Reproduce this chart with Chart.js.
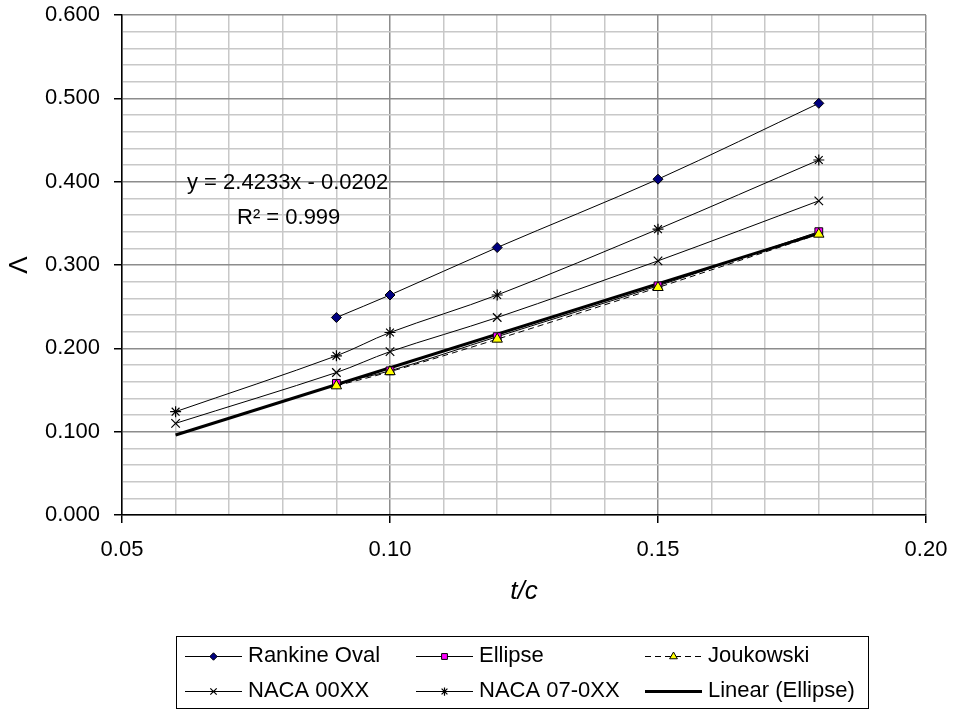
<!DOCTYPE html>
<html>
<head>
<meta charset="utf-8">
<script src="https://cdn.jsdelivr.net/npm/chart.js@4.4.1/dist/chart.umd.min.js"></script>
<style>
  html, body { margin: 0; padding: 0; background: #fff; }
  #wrap { width: 953px; height: 711px; }
</style>
</head>
<body>
<div id="wrap"><canvas id="lambda"></canvas></div>
<script>
// thickness ratio t/c of each section family
const tcSections = [0.09, 0.10, 0.12, 0.15, 0.18];
const tcNaca = [0.06, 0.09, 0.10, 0.12, 0.15, 0.18];
const tcTrend = [0.06, 0.18];

// Lambda values
const rankineOval = [0.237, 0.264, 0.321, 0.403, 0.494];
const ellipse = [0.158, 0.173, 0.214, 0.275, 0.340];
const joukowski = [0.155, 0.172, 0.211, 0.273, 0.337];
const naca00 = [0.110, 0.171, 0.196, 0.237, 0.305, 0.377];
const naca07 = [0.124, 0.191, 0.219, 0.264, 0.343, 0.426];
const linearEllipse = [0.096, 0.338];

const trendLabel = "y = 2.4233x - 0.0202";
const r2Label = "R\u00B2 = 0.999";

const FONT = "'Liberation Sans', Arial, sans-serif";

function pts(xs, ys) {
  return xs.map((x, i) => ({ x: x, y: ys[i] }));
}

function isMajor(v, step) {
  const q = v / step;
  return Math.abs(q - Math.round(q)) < 1e-6;
}

const datasets = [
  {
    label: "Rankine Oval",
    data: pts(tcSections, rankineOval),
    borderColor: "#000",
    borderWidth: 1,
    pointStyle: "rectRot",
    pointRadius: 5,
    pointBackgroundColor: "#000080",
    pointBorderColor: "#000",
    pointBorderWidth: 1,
  },
  {
    label: "Ellipse",
    data: pts(tcSections, ellipse),
    borderColor: "#000",
    borderWidth: 1,
    pointStyle: "rect",
    pointRadius: 5.5,
    pointBackgroundColor: "#ff00ff",
    pointBorderColor: "#000",
    pointBorderWidth: 1,
  },
  {
    label: "Joukowski",
    data: pts(tcSections, joukowski),
    borderColor: "#000",
    borderWidth: 1,
    borderDash: [6, 4],
    pointStyle: "triangle",
    pointRadius: 6,
    pointBackgroundColor: "#ffff00",
    pointBorderColor: "#000",
    pointBorderWidth: 1,
    order: -1,
  },
  {
    label: "NACA 00XX",
    data: pts(tcNaca, naca00),
    borderColor: "#000",
    borderWidth: 1,
    pointStyle: "crossRot",
    pointRadius: 6,
    pointBorderColor: "#000",
    pointBorderWidth: 1.2,
  },
  {
    label: "NACA 07-0XX",
    data: pts(tcNaca, naca07),
    borderColor: "#000",
    borderWidth: 1,
    pointStyle: "star",
    pointRadius: 5.5,
    pointBorderColor: "#000",
    pointBorderWidth: 1.2,
  },
  {
    label: "Linear (Ellipse)",
    data: pts(tcTrend, linearEllipse),
    borderColor: "#000",
    borderWidth: 3,
    pointRadius: 0,
    tension: 0,
    order: 1,
  },
];

// boxed legend under the plot, three columns by two rows
const boxLegend = {
  id: "boxLegend",
  afterDraw(chart) {
    const ctx = chart.ctx;
    const box = { x: 176.5, y: 636.5, w: 692, h: 72 };
    const cols = [185, 416, 645];
    const rows = [656, 691];
    const lineLen = 57;
    ctx.save();
    ctx.strokeStyle = "#000";
    ctx.lineWidth = 1;
    ctx.strokeRect(box.x, box.y, box.w, box.h);
    ctx.font = "22px " + FONT;
    ctx.textBaseline = "middle";
    ctx.textAlign = "left";
    chart.data.datasets.forEach((ds, i) => {
      const x = cols[i % 3];
      const y = rows[Math.floor(i / 3)];
      const ly = ds.borderWidth % 2 ? y + 0.5 : y;
      ctx.strokeStyle = ds.borderColor;
      ctx.lineWidth = ds.borderWidth;
      ctx.setLineDash(ds.borderDash || []);
      ctx.beginPath();
      ctx.moveTo(x, ly);
      ctx.lineTo(x + lineLen, ly);
      ctx.stroke();
      ctx.setLineDash([]);
      if (ds.pointRadius > 0) {
        ctx.fillStyle = ds.pointBackgroundColor || "#000";
        ctx.strokeStyle = ds.pointBorderColor;
        ctx.lineWidth = ds.pointBorderWidth;
        Chart.helpers.drawPoint(ctx, {
          pointStyle: ds.pointStyle,
          radius: ds.pointRadius * 0.75,
          rotation: 0,
          borderWidth: ds.pointBorderWidth,
        }, x + lineLen / 2, y + 0.5);
      }
      ctx.fillStyle = "#000";
      ctx.fillText(ds.label, x + lineLen + 6, y);
    });
    ctx.restore();
  },
};

// regression equation written inside the plot
const trendText = {
  id: "trendText",
  afterDraw(chart) {
    const ctx = chart.ctx;
    ctx.save();
    ctx.fillStyle = "#000";
    ctx.font = "22px " + FONT;
    ctx.textBaseline = "alphabetic";
    ctx.textAlign = "left";
    ctx.fillText(trendLabel, 187, 189);
    ctx.fillText(r2Label, 237, 224);
    ctx.restore();
  },
};

new Chart(document.getElementById("lambda"), {
  type: "line",
  data: { datasets: datasets },
  plugins: [boxLegend, trendText],
  options: {
    responsive: true,
    maintainAspectRatio: false,
    animation: false,
    layout: { padding: { top: 15, right: 27, left: 0, bottom: 101 } },
    elements: { line: { tension: 0.33 } },
    plugins: {
      legend: { display: false },
      tooltip: { enabled: false },
    },
    scales: {
      x: {
        type: "linear",
        min: 0.05,
        max: 0.20,
        afterFit(scale) {
          scale.height = 95;
          scale.paddingLeft = 0;
          scale.paddingRight = 0;
        },
        ticks: {
          stepSize: 0.01,
          autoSkip: false,
          maxRotation: 0,
          padding: 14,
          color: "#000",
          font: { family: FONT, size: 22 },
          callback: (v) => (isMajor(v, 0.05) ? v.toFixed(2) : ""),
        },
        grid: {
          color: (c) => (isMajor(c.tick.value, 0.05) ? "#8c8c8c" : "#c8c8c8"),
          tickColor: (c) => (isMajor(c.tick.value, 0.05) ? "#000" : "rgba(0,0,0,0)"),
          tickLength: 8,
          lineWidth: 1.5,
        },
        border: { color: "#000", width: 1.5 },
        title: {
          display: true,
          text: "t/c",
          color: "#000",
          font: { family: FONT, size: 26, style: "italic" },
          padding: { top: 0, bottom: 3 },
        },
      },
      y: {
        min: 0,
        max: 0.6,
        afterFit(scale) {
          scale.width = 122;
          scale.paddingTop = 0;
          scale.paddingBottom = 0;
        },
        ticks: {
          stepSize: 0.02,
          autoSkip: false,
          padding: 14,
          color: "#000",
          font: { family: FONT, size: 22 },
          callback: (v) => (isMajor(v, 0.1) ? v.toFixed(3) : ""),
        },
        grid: {
          color: (c) => (isMajor(c.tick.value, 0.1) ? "#8c8c8c" : "#c8c8c8"),
          tickColor: (c) => (isMajor(c.tick.value, 0.1) ? "#000" : "rgba(0,0,0,0)"),
          tickLength: 8,
          lineWidth: 1.5,
        },
        border: { color: "#000", width: 1.5 },
        title: {
          display: true,
          text: "\u039B",
          color: "#000",
          font: { family: FONT, size: 26 },
          padding: { top: 4, bottom: 0 },
        },
      },
    },
  },
});
</script>
</body>
</html>
